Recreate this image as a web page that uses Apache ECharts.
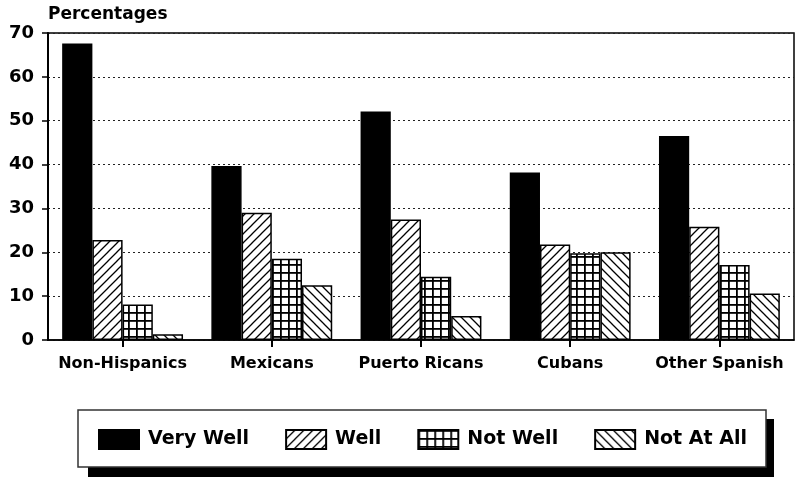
<!DOCTYPE html>
<html>
<head>
<meta charset="utf-8">
<script src="https://cdn.jsdelivr.net/npm/echarts@6/dist/echarts.min.js"></script>
<style>
html,body{margin:0;padding:0;background:#fff;}
#c{width:795px;height:477px;}
</style>
</head>
<body>
<div id="c"></div>
<script>
const categories = ['Non-Hispanics', 'Mexicans', 'Puerto Ricans', 'Cubans', 'Other Spanish'];
const seriesNames = ['Very Well', 'Well', 'Not Well', 'Not At All'];
const veryWell = [67.6, 39.7, 52.1, 38.2, 46.5];
const well = [22.8, 29.0, 27.5, 21.8, 25.8];
const notWell = [8.1, 18.5, 14.4, 19.8, 17.1];
const notAtAll = [1.3, 12.5, 5.5, 20.0, 10.6];
const yTicks = [0, 10, 20, 30, 40, 50, 60, 70];

const FONT = 'DejaVu Sans';

function makePattern(kind) {
  const s = kind === 'grid' ? 8 : 9;
  const cv = document.createElement('canvas');
  cv.width = s; cv.height = s;
  const g = cv.getContext('2d');
  g.fillStyle = '#fff';
  g.fillRect(0, 0, s, s);
  g.strokeStyle = '#000';
  g.fillStyle = '#000';
  if (kind === 'grid') {
    g.fillRect(0, 0, s, 1.8);
    g.fillRect(0, 0, 1.8, s);
  } else {
    g.lineWidth = 1.3;
    g.beginPath();
    if (kind === 'fwd') {
      g.moveTo(-1, s + 1); g.lineTo(s + 1, -1);
      g.moveTo(-2, 2); g.lineTo(2, -2);
      g.moveTo(s - 2, s + 2); g.lineTo(s + 2, s - 2);
    } else {
      g.moveTo(-1, -1); g.lineTo(s + 1, s + 1);
      g.moveTo(-2, s - 2); g.lineTo(2, s + 2);
      g.moveTo(s - 2, -2); g.lineTo(s + 2, 2);
    }
    g.stroke();
  }
  return { image: cv, repeat: 'repeat' };
}

const fills = ['#000', makePattern('fwd'), makePattern('grid'), makePattern('back')];
const dataSets = [veryWell, well, notWell, notAtAll];

const chart = echarts.init(document.getElementById('c'), null, { renderer: 'canvas' });
chart.setOption({
  animation: false,
  backgroundColor: '#fff',
  textStyle: { fontFamily: FONT },
  graphic: [
    { type: 'rect', z: 0, shape: { x: 88, y: 419, width: 686, height: 58 }, style: { fill: '#000' } },
    { type: 'rect', z: 1, shape: { x: 78, y: 410, width: 688, height: 57 }, style: { fill: '#fff', stroke: '#333', lineWidth: 1.5 } },
    { type: 'text', z: 2, left: 48, top: 6, style: { text: 'Percentages', font: 'bold 17px "DejaVu Sans"', fill: '#000' } }
  ],
  grid: {
    left: 48, right: 1, top: 33, bottom: 137,
    show: true, borderColor: '#000', borderWidth: 1.5
  },
  legend: {
    data: seriesNames,
    left: 98, top: 429,
    padding: 0,
    icon: 'rect',
    itemWidth: 40, itemHeight: 19,
    itemGap: 36,
    z: 10,
    textStyle: { fontFamily: FONT, fontWeight: 'bold', fontSize: 19, color: '#000', padding: [0, 0, 0, 4] }
  },
  xAxis: {
    type: 'category',
    data: categories,
    axisLine: { lineStyle: { color: '#000', width: 1.5 } },
    axisTick: { show: true, alignWithLabel: true, length: 7, lineStyle: { color: '#000', width: 2 } },
    axisLabel: { interval: 0, fontFamily: FONT, fontWeight: 'bold', fontSize: 16, color: '#000', margin: 16 }
  },
  yAxis: {
    type: 'value',
    min: yTicks[0], max: yTicks[yTicks.length - 1], interval: 10,
    axisLine: { show: true, lineStyle: { color: '#000', width: 2 } },
    axisTick: { show: true, length: 6, lineStyle: { color: '#000', width: 1.5 } },
    axisLabel: { fontFamily: FONT, fontWeight: 'bold', fontSize: 18, color: '#000', margin: 14 },
    splitLine: { show: true, lineStyle: { color: '#222', width: 1, type: [2, 3] } }
  },
  series: seriesNames.map((name, i) => ({
    name: name,
    type: 'bar',
    data: dataSets[i],
    barGap: '0%',
    barCategoryGap: '19%',
    itemStyle: { color: fills[i], borderColor: '#000', borderWidth: 1.5 }
  }))
});
</script>
</body>
</html>
